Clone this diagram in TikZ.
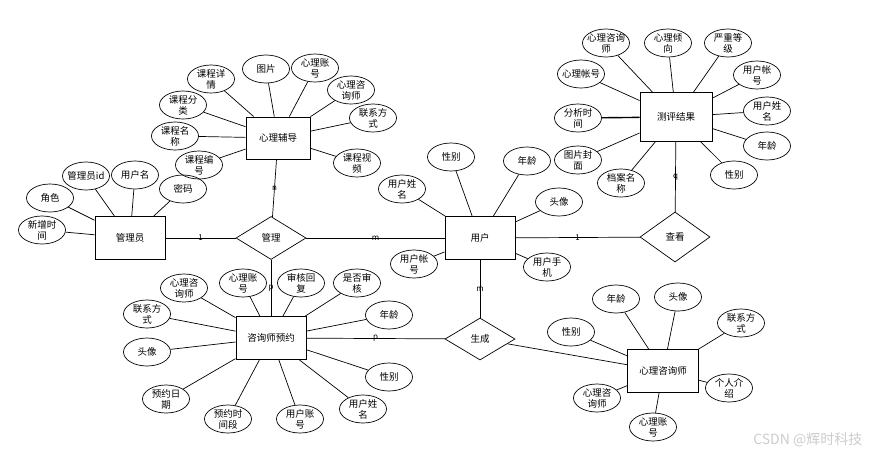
\documentclass[tikz,border=0pt]{standalone}
\usepackage{fontspec}
\setmainfont{Noto Sans CJK SC}
\usetikzlibrary{shapes.geometric}
\begin{document}
\begin{tikzpicture}[x=1pt,y=-1pt,line width=0.7pt,
        font=\fontsize{9.5}{11}\selectfont,
        entity/.style={draw,line width=0.9pt,minimum width=70pt,minimum height=43pt,inner sep=0pt},
        rel/.style={draw,diamond,minimum width=70pt,minimum height=43pt,inner sep=0pt},
        attr/.style={draw,ellipse,minimum width=47pt,minimum height=28pt,inner xsep=-3pt,inner ysep=-2pt,align=center},
        card/.style={font=\fontsize{8}{9}\selectfont,inner sep=1pt}]
        \useasboundingbox (0,0) rectangle (869,455);
        % entities and relations
        \node[entity] (admin) at (130,238) {管理员};
        \node[entity,minimum width=64pt,minimum height=42pt] (guide) at (278,138) {心理辅导};
        \node[entity] (user) at (480,238) {用户};
        \node[entity,minimum width=72pt,minimum height=49pt] (result) at (676,117) {测评结果};
        \node[entity] (booking) at (271,338) {咨询师预约};
        \node[entity,minimum width=71pt] (counselor) at (663,371) {心理咨询师};
        \node[rel] (manage) at (271,238) {管理};
        \node[rel,minimum height=50pt] (view) at (675,237) {查看};
        \node[rel,minimum height=42pt] (make) at (480,339) {生成};
        \draw (admin) -- node[card] {1} (manage);
        \draw (manage) -- node[card] {m} (user);
        \draw (manage) -- node[card] {n} (guide);
        \draw (manage) -- node[card] {p} (booking);
        \draw (booking) -- node[card] {p} (make);
        \draw (user) -- node[card] {m} (make);
        \draw (user) -- node[card] {1} (view);
        \draw (view) -- node[card] {q} (result);
        \draw (make) -- (counselor);
        % admin
        \node[attr] (a1) at (50,198) {角色} edge (admin);
        \node[attr] (a2) at (86,176) {管理员id} edge (admin);
        \node[attr] (a3) at (135,175) {用户名} edge (admin);
        \node[attr] (a4) at (183,189) {密码} edge (admin);
        \node[attr] (a5) at (42,230) {新增时\\间} edge (admin);
        % guide
        \node[attr] (g1) at (211,79) {课程详\\情} edge (guide);
        \node[attr] (g2) at (266,69) {图片} edge (guide);
        \node[attr] (g3) at (315,68) {心理账\\号} edge (guide);
        \node[attr] (g4) at (351,90) {心理咨\\询师} edge (guide);
        \node[attr] (g5) at (373,118) {联系方\\式} edge (guide);
        \node[attr] (g6) at (357,163) {课程视\\频} edge (guide);
        \node[attr] (g7) at (183,105) {课程分\\类} edge (guide);
        \node[attr] (g8) at (175,136) {课程名\\称} edge (guide);
        \node[attr] (g9) at (199,165) {课程编\\号} edge (guide);
        % user
        \node[attr] (u1) at (451,157) {性别} edge (user);
        \node[attr] (u2) at (527,161) {年龄} edge (user);
        \node[attr] (u3) at (402,189) {用户姓\\名} edge (user);
        \node[attr] (u4) at (559,202) {头像} edge (user);
        \node[attr] (u5) at (414,264) {用户帐\\号} edge (user);
        \node[attr] (u6) at (547,267) {用户手\\机} edge (user);
        % result
        \node[attr] (r1) at (606,43) {心理咨询\\师} edge (result);
        \node[attr] (r2) at (668,43) {心理倾\\向} edge (result);
        \node[attr] (r3) at (728,43) {严重等\\级} edge (result);
        \node[attr] (r4) at (757,75) {用户帐\\号} edge (result);
        \node[attr] (r5) at (767,111) {用户姓\\名} edge (result);
        \node[attr] (r6) at (767,146) {年龄} edge (result);
        \node[attr] (r7) at (734,175) {性别} edge (result);
        \node[attr] (r8) at (621,183) {档案名\\称} edge (result);
        \node[attr] (r9) at (578,160) {图片封\\面} edge (result);
        \node[attr] (r10) at (578,118) {分析时\\间} edge[line width=1.4pt] (result);
        \node[attr] (r11) at (581,74) {心理帐号} edge (result);
        % booking
        \node[attr] (b1) at (184,288) {心理咨\\询师} edge (booking);
        \node[attr] (b2) at (243,283) {心理账\\号} edge (booking);
        \node[attr] (b3) at (301,283) {审核回\\复} edge (booking);
        \node[attr] (b4) at (357,283) {是否审\\核} edge (booking);
        \node[attr] (b5) at (389,315) {年龄} edge (booking);
        \node[attr] (b6) at (389,377) {性别} edge (booking);
        \node[attr] (b7) at (363,409) {用户姓\\名} edge (booking);
        \node[attr] (b8) at (300,419) {用户账\\号} edge (booking);
        \node[attr] (b9) at (228,419) {预约时\\间段} edge (booking);
        \node[attr] (b10) at (166,399) {预约日\\期} edge (booking);
        \node[attr] (b11) at (147,352) {头像} edge (booking);
        \node[attr] (b12) at (147,314) {联系方\\式} edge (booking);
        % counselor
        \node[attr] (c1) at (616,299) {年龄} edge (counselor);
        \node[attr] (c2) at (678,297) {头像} edge (counselor);
        \node[attr] (c3) at (741,323) {联系方\\式} edge (counselor);
        \node[attr] (c4) at (571,332) {性别} edge (counselor);
        \node[attr] (c5) at (729,388) {个人介\\绍} edge (counselor);
        \node[attr] (c6) at (597,398) {心理咨\\询师} edge (counselor);
        \node[attr] (c7) at (653,427) {心理账\\号} edge (counselor);
        \node[text=gray!40,font=\fontsize{14}{16}\selectfont,anchor=east] (mark) at (866,440) {CSDN @辉时科技};
    \end{tikzpicture}
\end{document}
